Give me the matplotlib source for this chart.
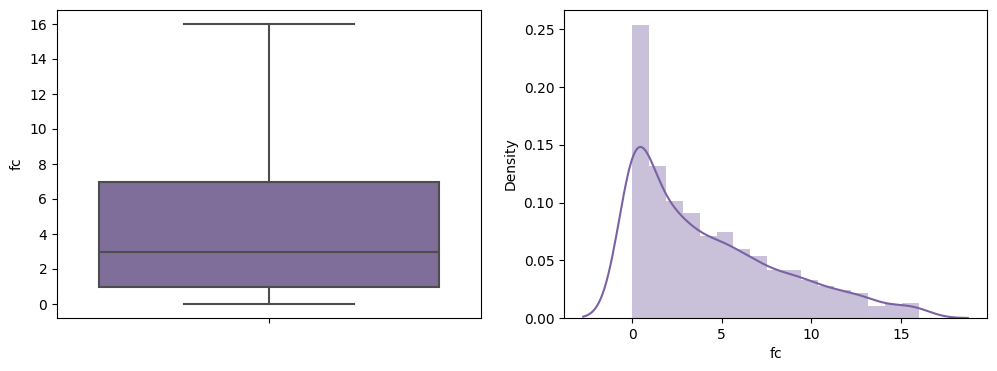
import numpy as np
import matplotlib
matplotlib.use('Agg')
import matplotlib.pyplot as plt
import seaborn as sns

# front camera megapixels and how many phones have each value (outliers > 16 dropped)
fc_values = [0, 1, 2, 3, 4, 5, 6, 7, 8, 9, 10, 11, 12, 13, 14, 15, 16]
fc_counts = [474, 245, 189, 170, 133, 139, 112, 100, 77, 78, 62, 51, 45, 40, 20, 23, 24]

line_color = '#7a62a3'
box_color = '#7f6d9a'
edge_color = '#4d4d4d'

fc = np.repeat(fc_values, fc_counts)

fig = plt.figure(figsize=(9.97, 3.71), dpi=100)
ax1 = fig.add_axes([57 / 997, 53 / 371, 424 / 997, 308 / 371])
ax2 = fig.add_axes([564 / 997, 53 / 371, 423 / 997, 308 / 371])

#---------------------------------------Box Plot ------------------------------------------------#
ax1.boxplot(fc, positions=[0], widths=0.8, whis=1.5, patch_artist=True, showfliers=False,
            boxprops=dict(facecolor=box_color, edgecolor=edge_color, linewidth=1.5),
            medianprops=dict(color=edge_color, linewidth=1.5),
            whiskerprops=dict(color=edge_color, linewidth=1.5),
            capprops=dict(color=edge_color, linewidth=1.5))
ax1.set_xlim(-0.5, 0.5)
ax1.set_xticks([0])
ax1.set_xticklabels([''])
ax1.set_ylabel('fc')

#---------------------------------------Distribution ------------------------------------------------#
ax2.hist(fc, bins=17, density=True, color=line_color, alpha=0.4)
sns.kdeplot(x=fc, ax=ax2, color=line_color, cut=3, linewidth=1.5)
ax2.set_xlabel('fc')
ax2.set_ylabel('Density')

fig.savefig('out.png', dpi=100)
